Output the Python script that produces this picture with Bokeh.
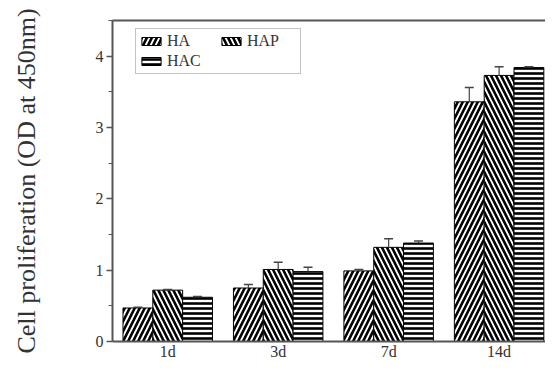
import numpy as np
from bokeh.plotting import figure
from bokeh.models import (ColumnDataSource, FixedTicker, Range1d, LinearAxis,
                          Legend, LegendItem, Whisker, TeeHead)
from bokeh.embed import file_html
from bokeh.resources import INLINE

days = ["1d", "3d", "7d", "14d"]
series = ["HA", "HAP", "HAC"]
ha = [0.47, 0.75, 0.99, 3.36]
hap = [0.72, 1.01, 1.32, 3.73]
hac = [0.62, 0.98, 1.38, 3.84]
ha_err = [0.01, 0.05, 0.02, 0.20]
hap_err = [0.01, 0.10, 0.12, 0.12]
hac_err = [0.01, 0.06, 0.03, 0.01]
y_ticks = [0, 1, 2, 3, 4]

FONT = "Liberation Serif"
TXT = "#333333"
AX = "#555555"

p = figure(width=545, height=362, output_backend="svg", toolbar_location=None,
           x_range=Range1d(0.5, 4.42), y_range=Range1d(0, 4.5),
           min_border_left=112, min_border_right=0, min_border_top=20,
           min_border_bottom=10)
p.outline_line_color = None
p.grid.grid_line_color = None
p.background_fill_color = "white"

xs = np.arange(1, len(days) + 1)
w = 0.27
vals = [ha, hap, hac]
errs = [ha_err, hap_err, hac_err]
offsets = [-w, 0.0, w]
patterns = ["/", "\\", "-"]
scales = [10, 10, 5]
weights = [2.6, 2.6, 2.6]
renderers = []
for name, v, e, off, pat, sc, hw in zip(series, vals, errs, offsets, patterns, scales, weights):
    src = ColumnDataSource(dict(x=xs + off, top=v,
                                upper=[a + b for a, b in zip(v, e)]))
    r = p.vbar(x="x", top="top", width=w, source=src, fill_color="white",
               line_color="black", line_width=1, hatch_pattern=pat,
               hatch_color="black", hatch_weight=hw, hatch_scale=sc)
    renderers.append(r)
    wh = Whisker(base="x", upper="upper", lower="top", source=src,
                 line_color="#444444", line_width=1.2,
                 upper_head=TeeHead(size=9, line_color="#444444", line_width=1.5),
                 lower_head=None, level="overlay")
    p.add_layout(wh)

# axes
p.yaxis.ticker = FixedTicker(ticks=y_ticks, minor_ticks=[0.5, 1.5, 2.5, 3.5, 4.5])
p.yaxis.axis_label = "Cell proliferation (OD at 450nm)"
p.yaxis.axis_label_text_font = FONT
p.yaxis.axis_label_text_font_style = "normal"
p.yaxis.axis_label_text_font_size = "26px"
p.yaxis.axis_label_text_color = TXT
p.yaxis.axis_label_standoff = 52
p.yaxis.major_label_text_font = FONT
p.yaxis.major_label_text_font_size = "16px"
p.yaxis.major_label_text_color = TXT
p.yaxis.major_tick_out = 6
p.yaxis.major_tick_in = 0
p.yaxis.minor_tick_out = 4
p.yaxis.minor_tick_in = 0
p.yaxis.major_label_standoff = 3

p.xaxis.ticker = FixedTicker(ticks=list(xs))
p.xaxis.major_label_overrides = {int(i): d for i, d in zip(xs, days)}
p.xaxis.major_label_text_font = FONT
p.xaxis.major_label_text_font_size = "16px"
p.xaxis.major_label_text_color = TXT
p.xaxis.major_tick_out = 0
p.xaxis.major_tick_in = 0
p.xaxis.minor_tick_out = 0
p.xaxis.major_label_standoff = 1

for ax in (p.xaxis[0], p.yaxis[0]):
    ax.axis_line_color = AX
    ax.axis_line_width = 2
    ax.major_tick_line_color = AX
    ax.minor_tick_line_color = AX
    ax.major_tick_line_width = 1.5

top_axis = LinearAxis(major_tick_line_color=None, minor_tick_line_color=None,
                      major_label_text_font_size="0px", axis_line_color=AX,
                      axis_line_width=2)
top_axis.ticker = FixedTicker(ticks=[])
p.add_layout(top_axis, "above")

legend = Legend(items=[LegendItem(label=s, renderers=[r]) for s, r in zip(series, renderers)],
                location=(23, 267), orientation="horizontal", ncols=2,
                label_text_font=FONT, label_text_font_size="16px",
                label_text_color=TXT, glyph_width=24, glyph_height=10,
                label_standoff=4, label_width=50, label_height=16,
                spacing=2, padding=3, margin=0,
                border_line_color="#888888", border_line_width=1,
                background_fill_alpha=1.0)
p.add_layout(legend)

open("out.html", "w").write(file_html(p, INLINE))
